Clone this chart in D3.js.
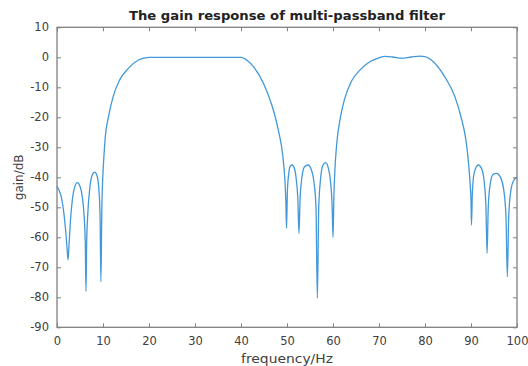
<!DOCTYPE html>
<html>
<head>
<meta charset="utf-8">
<script src="https://cdn.jsdelivr.net/npm/d3@7/dist/d3.min.js"></script>
<style>
  html, body { margin: 0; padding: 0; background: #fff; }
  svg { display: block; }
  text { font-family: "DejaVu Sans", Verdana, sans-serif; }
</style>
</head>
<body>
<svg id="chart" width="528" height="366"></svg>
<script>
const titleText = "The gain response of multi-passband filter";
const xLabel = "frequency/Hz";
const yLabel = "gain/dB";
const xTicks = [0, 10, 20, 30, 40, 50, 60, 70, 80, 90, 100];
const yTicks = [10, 0, -10, -20, -30, -40, -50, -60, -70, -80, -90];

const freq = [
  0, 0.5, 1.0, 1.5, 1.9, 2.2, 2.4, 2.6, 2.9, 3.3, 3.8, 4.4, 5.0, 5.5, 5.9, 6.15, 6.3, 6.45, 6.7, 7.1,
  7.6, 8.2, 8.7, 9.1, 9.35, 9.55, 9.75, 9.95, 10.2, 10.5, 11.2, 12.2, 13.6, 15.5, 17.7, 19.5,
  20, 25, 30, 35, 40, 41.5, 42.7, 44.9, 46.7, 48.1, 49.1, 49.5, 49.75, 49.9, 50.1, 50.4, 50.7, 51.1,
  51.6, 52.0, 52.35, 52.6, 52.85, 53.2, 53.8, 54.6, 55.3, 55.9, 56.3, 56.6, 56.9, 57.3, 57.8, 58.4,
  59.0, 59.5, 59.8, 60.0, 60.2, 60.4, 60.8, 61.5, 62.5, 64.0, 65.9, 68.0, 70.0, 71.3, 73.0, 74.9,
  77.0, 78.9, 80.0, 81.8, 84.3, 86.5, 88.0, 88.9, 89.4, 89.8, 90.0, 90.1, 90.3, 90.7, 91.6, 92.4,
  92.9, 93.25, 93.5, 93.75, 94.2, 94.8, 95.6, 96.4, 97.1, 97.6, 97.9, 98.2, 98.7, 99.3, 100
];
const gain = [
  -43, -44.5, -47, -52, -58, -64, -67.5, -63, -55, -48, -43.5, -41.8, -43, -46.5, -53, -62, -78, -62, -52, -44,
  -39.5, -38.3, -39.5, -44, -52, -74.8, -50, -40, -33, -26.5, -19.8, -13.1, -7.6, -3.7, -0.9, -0.1,
  0, 0, 0, 0, 0, -1.2, -3.1, -8.7, -15.9, -24.2, -33, -40, -48, -57, -44, -38.5, -36.3, -35.9,
  -37, -40.5, -47, -58.7, -47, -40.5, -36.5, -35.9, -37.5, -42, -50, -80.3, -50, -40.5, -36, -35.1,
  -37, -42, -49, -60, -46, -38, -29, -21, -14, -8, -4.2, -1.5, -0.2, 0.3, 0.1, -0.3,
  0.1, 0.4, 0.2, -1.5, -6.5, -13.1, -20.9, -27.6, -34.2, -42, -48, -55.9, -45, -38.5, -35.9, -37.5,
  -42, -50, -65.3, -50, -42, -39, -38.7, -40, -44, -53, -73.1, -53, -44, -41, -40
];

const W = 528, H = 366;
const margin = { left: 57, right: 11, top: 27.3, bottom: 38.7 };
const svg = d3.select("#chart");

const x = d3.scaleLinear().domain([0, 100]).range([margin.left, W - margin.right]);
const y = d3.scaleLinear().domain([-90, 10]).range([H - margin.bottom, margin.top]);

const axisColor = "#808080";
const labelColor = "#404040";
const fmt = d => String(d);

// data line
const pts = freq.map((f, i) => [f, gain[i]]);
const line = d3.line().x(d => x(d[0])).y(d => y(d[1])).curve(d3.curveMonotoneX);
svg.append("path")
  .datum(pts)
  .attr("fill", "none")
  .attr("stroke", "#4298d8")
  .attr("stroke-width", 1.3)
  .attr("stroke-linejoin", "round")
  .attr("d", line);

function styleAxis(g, showLabels) {
  g.select(".domain").remove();
  g.selectAll(".tick line").attr("stroke", axisColor).attr("stroke-width", 1);
  g.selectAll(".tick text")
    .attr("fill", labelColor)
    .style("font-size", "11.5px")
    .style("font-family", "'DejaVu Sans', Verdana, sans-serif");
  if (!showLabels) g.selectAll(".tick text").remove();
}

svg.append("g")
  .attr("transform", `translate(0,${y(-90)})`)
  .call(d3.axisBottom(x).tickValues(xTicks).tickFormat(fmt).tickSizeInner(-4).tickSizeOuter(0).tickPadding(10))
  .call(g => styleAxis(g, true));

svg.append("g")
  .attr("transform", `translate(0,${y(10)})`)
  .call(d3.axisTop(x).tickValues(xTicks).tickSizeInner(-4).tickSizeOuter(0))
  .call(g => styleAxis(g, false));

svg.append("g")
  .attr("transform", `translate(${x(0)},0)`)
  .call(d3.axisLeft(y).tickValues(yTicks).tickFormat(fmt).tickSizeInner(-4).tickSizeOuter(0).tickPadding(8))
  .call(g => styleAxis(g, true));

svg.append("g")
  .attr("transform", `translate(${x(100)},0)`)
  .call(d3.axisRight(y).tickValues(yTicks).tickSizeInner(-4).tickSizeOuter(0))
  .call(g => styleAxis(g, false));

// box
svg.append("rect")
  .attr("x", x(0)).attr("y", y(10))
  .attr("width", x(100) - x(0)).attr("height", y(-90) - y(10))
  .attr("fill", "none")
  .attr("stroke", axisColor)
  .attr("stroke-width", 1.3);

// title
svg.append("text")
  .attr("x", (x(0) + x(100)) / 2)
  .attr("y", 19.5)
  .attr("text-anchor", "middle")
  .attr("fill", "#222")
  .attr("textLength", 316)
  .attr("lengthAdjust", "spacingAndGlyphs")
  .style("font-size", "12.5px")
  .style("font-weight", "bold")
  .text(titleText);

// x label
svg.append("text")
  .attr("x", (x(0) + x(100)) / 2)
  .attr("y", 362.5)
  .attr("text-anchor", "middle")
  .attr("fill", labelColor)
  .attr("textLength", 92)
  .attr("lengthAdjust", "spacingAndGlyphs")
  .style("font-size", "13px")
  .text(xLabel);

// y label
svg.append("text")
  .attr("transform", `translate(23,${(y(10) + y(-90)) / 2}) rotate(-90)`)
  .attr("text-anchor", "middle")
  .attr("fill", labelColor)
  .style("font-size", "12px")
  .text(yLabel);
</script>
</body>
</html>
